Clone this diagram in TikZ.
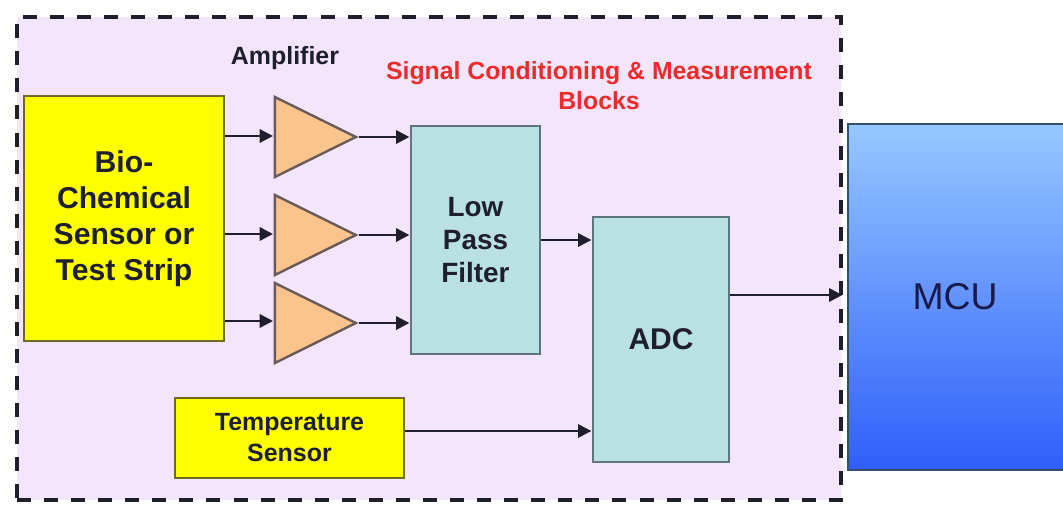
\documentclass[tikz,border=0pt]{standalone}
\usepackage{fontspec}
\setmainfont{Liberation Sans}
\usetikzlibrary{arrows.meta,shapes.geometric}
\definecolor{lav}{HTML}{F3E6FC}
\definecolor{ink}{HTML}{1E1E2C}
\definecolor{teal1}{HTML}{B9E0E2}
\definecolor{tealline}{HTML}{5F7580}
\definecolor{yel}{HTML}{FFFF00}
\definecolor{yelline}{HTML}{6E6A20}
\definecolor{peach}{HTML}{FBC48C}
\definecolor{peachline}{HTML}{6A5A58}
\definecolor{mcutop}{HTML}{96C8FF}
\definecolor{mcubot}{HTML}{2F5EFA}
\definecolor{mculine}{HTML}{34506E}
\definecolor{sigred}{HTML}{EE2A2A}
\tikzset{
  x=0.75pt,y=-0.75pt,
  sized/.style 2 args={rectangle,inner sep=0pt,minimum width=#1*0.75pt,minimum height=#2*0.75pt},
  blockbox/.style={draw,line width=1.5pt,align=center,text=ink,font=\bfseries},
  yellowbox/.style={blockbox,fill=yel,draw=yelline},
  tealbox/.style={blockbox,fill=teal1,draw=tealline},
  ampl/.style={isosceles triangle,isosceles triangle stretches,shape border rotate=0,inner sep=0pt,
    minimum width=80*0.75pt,minimum height=81*0.75pt,draw=peachline,line width=1.8pt,fill=peach},
  conn/.style={draw=ink,line width=1.8pt,-{Triangle[length=10pt,width=10pt]},shorten >=0.5pt},
  frameline/.style={draw=ink,line width=3pt,dash pattern=on 10.5pt off 9.8pt,fill=lav,sized={824}{483}},
  caption/.style={text=ink,font=\bfseries,align=center},
}
\begin{document}
\begin{tikzpicture}
\clip (0,0) rectangle (1063,504);
\fill[white] (0,0) rectangle (1063,504);
\node[frameline] (frame) at (429,258.5) {};
\node[sized={220}{346},draw=mculine,line width=1.5pt,top color=mcutop,bottom color=mcubot,
      font=\fontsize{28}{32}\selectfont,text=ink!85!blue] (mcu) at (958,297) {\hspace*{-4.5pt}MCU};
\node[yellowbox,sized={200}{245},font=\bfseries\fontsize{22.6}{27}\selectfont] (sensor) at (124,218.5)
  {\raisebox{-1.5pt}{Bio-}\\\raisebox{-1.5pt}{Chemical}\\\raisebox{-1.5pt}{Sensor or}\\\raisebox{-1.5pt}{Test Strip}};
\node[ampl,anchor=apex] (amp1) at (359,137) {};
\node[ampl,anchor=apex] (amp2) at (359,235) {};
\node[ampl,anchor=apex] (amp3) at (359,323) {};
\node[tealbox,sized={129}{228},font=\bfseries\fontsize{20.9}{25}\selectfont] (filter) at (475.5,240)
  {Low\\Pass\\Filter};
\node[tealbox,sized={136}{245},font=\bfseries\fontsize{22.5}{27}\selectfont] (adc) at (661,339.5) {ADC};
\node[yellowbox,sized={229}{80},font=\bfseries\fontsize{18.7}{23.2}\selectfont] (temp) at (289.5,438)
  {Temperature\\Sensor};
\node[caption,font=\bfseries\fontsize{18.7}{22}\selectfont] (amplabel) at (285,58) {Amplifier};
\node[caption,text=sigred,font=\bfseries\fontsize{18.6}{22.5}\selectfont] (siglabel) at (599,86)
  {Signal Conditioning \& Measurement\\Blocks};
\coordinate (y1) at (0,136);
\coordinate (y2) at (0,234);
\coordinate (y3) at (0,321);
\coordinate (yf) at (0,240);
\coordinate (ym) at (0,295);
\coordinate (yt) at (0,431);
\draw[conn] (sensor.east |- y1) -- (amp1.lower side |- y1);
\draw[conn] (sensor.east |- y2) -- (amp2.lower side |- y2);
\draw[conn] (sensor.east |- y3) -- (amp3.lower side |- y3);
\draw[conn] (amp1.apex) -- (filter.west |- amp1.apex);
\draw[conn] (amp2.apex) -- (filter.west |- amp2.apex);
\draw[conn] (amp3.apex) -- (filter.west |- amp3.apex);
\draw[conn] (filter.east |- yf) -- (adc.west |- yf);
\draw[conn] (adc.east |- ym) -- (frame.east |- ym);
\draw[conn] (temp.east |- yt) -- (adc.west |- yt);
\end{tikzpicture}
\end{document}
